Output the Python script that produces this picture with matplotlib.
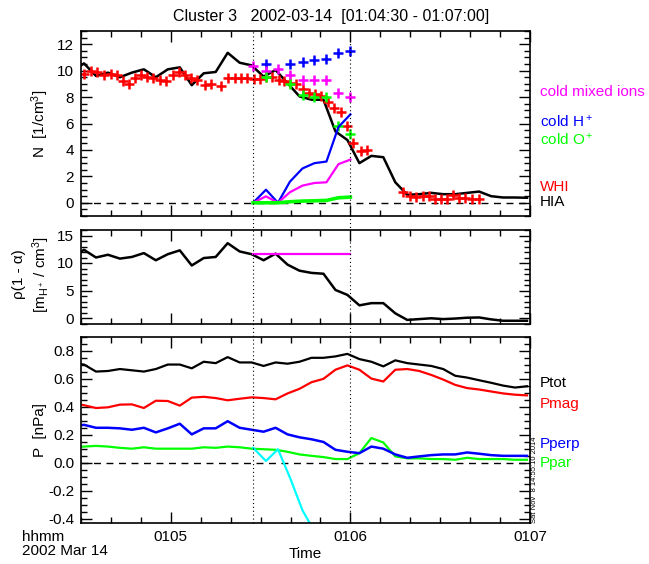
"""
Cluster 3 plasma moments, 2002-03-14 01:04:30 - 01:07:00
Three stacked panels: densities, mass density, pressures.
"""

import matplotlib
matplotlib.use('Agg')
import matplotlib.pyplot as plt
from matplotlib.ticker import MultipleLocator, FixedLocator, NullFormatter
from matplotlib.lines import Line2D
from matplotlib.transforms import blended_transform_factory

plt.rcParams['font.family'] = ['Liberation Sans', 'DejaVu Sans']
plt.rcParams['mathtext.fontset'] = 'custom'
plt.rcParams['mathtext.rm'] = 'Liberation Sans'
plt.rcParams['mathtext.it'] = 'Liberation Sans:italic'

# time axis: seconds after 01:04:30
tick_secs = [30, 90, 150]
tick_labels = ['0105', '0106', '0107']
event_secs = [57.4, 90.0]

# HIA spin-resolution samples (4 s)
t_hia = [-3, 1, 5, 9, 13, 17, 21, 25, 29, 33, 37, 41, 45, 49, 53, 57, 61, 65, 69,
         73, 77, 81, 85, 89, 93, 97, 101, 105, 109, 113, 117, 121, 125, 129, 133,
         137, 141, 145, 149]
n_hia = [9.95, 10.55, 9.6, 9.85, 9.5, 9.85, 10.1, 9.5, 10.1, 10.25, 8.9, 9.8, 9.9,
         11.35, 10.6, 10.4, 9.55, 10.05, 9.05, 8.05, 7.8, 7.8, 5.4, 4.75, 3.0, 3.55,
         3.45, 1.55, 0.6, 0.65, 0.75, 0.65, 0.65, 0.75, 0.85, 0.5, 0.4, 0.4, 0.38]

# WHI density (pluses)
t_whi = [1.0, 3.4, 5.4, 7.7, 9.9, 12.1, 14.1, 16.1, 18.1, 20.1, 22.2, 24.2, 26.4,
         28.4, 30.6, 32.6, 34.6, 36.9, 38.9, 41.3, 43.3, 46.9, 49.1, 51.4, 53.6,
         55.6, 57.8, 59.8, 61.8, 63.8, 66.0, 67.8, 69.8, 71.8, 74.1, 76.1, 78.3,
         80.3, 82.5, 84.5, 86.8, 89.0, 91.0, 93.4, 95.7, 107.5, 109.9, 111.9,
         114.2, 116.2, 118.4, 120.4, 122.4, 124.4, 126.4, 128.4, 130.6, 132.9]
n_whi = [9.76, 10.0, 9.91, 9.66, 9.71, 9.66, 9.21, 8.98, 9.41, 9.66, 9.51, 9.41,
         9.31, 9.21, 9.66, 9.91, 9.66, 9.46, 9.31, 8.91, 9.01, 8.86, 9.46, 9.46,
         9.46, 9.46, 9.37, 9.35, 9.5, 9.5, 9.32, 9.2, 9.1, 9.02, 8.58, 8.28, 8.2,
         8.05, 7.6, 7.2, 6.85, 5.78, 4.55, 3.9, 3.98, 0.85, 0.5, 0.45, 0.5, 0.55,
         0.25, 0.25, 0.3, 0.6, 0.4, 0.35, 0.25, 0.25]

# cold ion interval
t_cold = [57.5, 61.8, 65.8, 69.8, 74.0, 78.0, 82.0, 86.0, 90.0]
n_cold_h = [0.0, 0.99, 0.0, 1.6, 2.6, 3.0, 3.12, 5.73, 6.69]
n_cold_mix = [0.0, 0.49, 0.0, 0.8, 1.3, 1.5, 1.55, 2.92, 3.27]
n_cold_o = [0.0, 0.0, 0.0, 0.08, 0.13, 0.15, 0.18, 0.38, 0.43]

t_plus_h = [61.8, 69.8, 74.0, 78.0, 82.0, 86.0, 90.0]
n_plus_h = [10.47, 10.52, 10.66, 10.78, 10.91, 11.36, 11.46]
t_plus_mix = [57.5, 61.8, 65.8, 69.8, 74.0, 78.0, 82.0, 86.0, 90.0]
n_plus_mix = [10.35, 9.94, 10.15, 9.7, 9.3, 9.27, 9.32, 8.32, 7.99]
t_plus_o = [61.8, 69.8, 74.0, 78.0, 82.0, 86.0, 90.0]
n_plus_o = [9.52, 8.96, 8.16, 7.98, 7.98, 5.79, 5.19]

# mass density
rho = [10.9, 12.4, 11.0, 11.5, 10.8, 11.1, 11.8, 10.5, 11.6, 12.3, 9.55, 10.9,
       11.1, 13.6, 12.1, 11.6, 10.5, 11.7, 9.7, 8.6, 8.2, 8.05, 5.1, 4.2, 2.3,
       2.7, 2.7, 0.85, -0.35, -0.2, -0.05, -0.2, -0.1, 0.05, 0.1, -0.25, -0.5,
       -0.5, -0.5]
t_rho_cold = [57.5, 90.0]
rho_cold = [11.7, 11.7]

# pressures
p_tot = [0.71, 0.70, 0.65, 0.654, 0.668, 0.659, 0.65, 0.668, 0.70, 0.70, 0.673,
         0.72, 0.71, 0.753, 0.715, 0.715, 0.69, 0.715, 0.706, 0.72, 0.748, 0.748,
         0.758, 0.776, 0.739, 0.72, 0.687, 0.73, 0.71, 0.70, 0.69, 0.668, 0.62,
         0.607, 0.588, 0.57, 0.55, 0.536, 0.545]
p_mag = [0.425, 0.41, 0.39, 0.395, 0.414, 0.416, 0.39, 0.442, 0.44, 0.407, 0.464,
         0.47, 0.461, 0.445, 0.456, 0.466, 0.461, 0.452, 0.494, 0.527, 0.574,
         0.598, 0.663, 0.694, 0.663, 0.60, 0.579, 0.663, 0.668, 0.654, 0.626,
         0.593, 0.555, 0.532, 0.522, 0.508, 0.494, 0.485, 0.48]
p_perp = [0.26, 0.27, 0.249, 0.249, 0.245, 0.235, 0.249, 0.216, 0.245, 0.278,
          0.202, 0.245, 0.245, 0.296, 0.249, 0.235, 0.221, 0.249, 0.202, 0.181,
          0.167, 0.148, 0.092, 0.078, 0.068, 0.115, 0.10, 0.059, 0.035, 0.045,
          0.054, 0.059, 0.059, 0.073, 0.064, 0.054, 0.049, 0.049, 0.049]
p_par = [0.11, 0.115, 0.12, 0.115, 0.106, 0.10, 0.11, 0.10, 0.10, 0.10, 0.10,
         0.11, 0.106, 0.115, 0.11, 0.10, 0.096, 0.092, 0.078, 0.059, 0.049, 0.04,
         0.026, 0.026, 0.068, 0.176, 0.144, 0.045, 0.031, 0.031, 0.026, 0.026,
         0.021, 0.035, 0.026, 0.026, 0.026, 0.021, 0.021]
t_cyan = [57.5, 61.8, 65.8, 69.8, 74.0, 78.0]
p_cyan = [0.106, 0.012, 0.096, -0.106, -0.34, -0.49]

BLUE = '#0000ff'
RED = '#ff0000'
GREEN = '#00ff00'
MAGENTA = '#ff00ff'
CYAN = '#00ffff'


def style_axis(ax, ylim, ymaj, ymin, xlabels=False):
    ax.set_xlim(0, 150)
    ax.set_ylim(*ylim)
    ax.xaxis.set_major_locator(FixedLocator(tick_secs))
    ax.xaxis.set_minor_locator(MultipleLocator(10))
    ax.yaxis.set_major_locator(MultipleLocator(ymaj))
    ax.yaxis.set_minor_locator(MultipleLocator(ymin))
    if xlabels:
        ax.set_xticklabels(tick_labels)
    else:
        ax.xaxis.set_major_formatter(NullFormatter())
    ax.tick_params(which='both', direction='in', top=True, right=True,
                   labelsize=11, width=1.0)
    ax.tick_params(which='major', length=8, pad=5)
    ax.tick_params(which='minor', length=4)
    for s in ax.spines.values():
        s.set_linewidth(1.2)


def main():
    fig = plt.figure(figsize=(6.49, 5.64), dpi=100)
    W, H = 649.0, 564.0
    x0, x1 = 81 / W, 530 / W

    def box(top, bottom):
        return [x0, 1 - bottom / H, x1 - x0, (bottom - top) / H]

    ax1 = fig.add_axes(box(31, 216))
    ax2 = fig.add_axes(box(230, 323.5))
    ax3 = fig.add_axes(box(336.5, 523))

    # panel 1: densities
    ax1.axhline(0, color='k', lw=1, linestyle=(0, (5, 4)))
    ax1.plot(t_hia, n_hia, color='k', lw=1.8)
    ax1.plot(t_whi, n_whi, '+', color=RED, ms=7, mew=1.8)
    ax1.plot(t_plus_h, n_plus_h, '+', color=BLUE, ms=7, mew=1.8)
    ax1.plot(t_plus_mix, n_plus_mix, '+', color=MAGENTA, ms=7, mew=1.8)
    ax1.plot(t_plus_o, n_plus_o, '+', color=GREEN, ms=7, mew=1.8)
    ax1.plot(t_cold, n_cold_h, color=BLUE, lw=1.6)
    ax1.plot(t_cold, n_cold_mix, color=MAGENTA, lw=1.6)
    ax1.plot(t_cold, n_cold_o, color=GREEN, lw=2.6)
    style_axis(ax1, (-1, 13), 2, 0.5)

    # panel 2: mass density
    ax2.plot(t_hia, rho, color='k', lw=1.8)
    ax2.plot(t_rho_cold, rho_cold, color=MAGENTA, lw=1.6)
    style_axis(ax2, (-1, 16), 5, 1)

    # panel 3: pressures
    ax3.axhline(0, color='k', lw=1, linestyle=(0, (5, 4)))
    ax3.plot(t_hia, p_tot, color='k', lw=1.6)
    ax3.plot(t_hia, p_mag, color=RED, lw=1.6)
    ax3.plot(t_hia, p_par, color=GREEN, lw=1.6)
    ax3.plot(t_hia, p_perp, color=BLUE, lw=1.8)
    ax3.plot(t_cyan, p_cyan, color=CYAN, lw=1.6)
    style_axis(ax3, (-0.43, 0.9), 0.2, 0.05, xlabels=True)
    ax3.yaxis.set_major_formatter(plt.FuncFormatter(lambda v, p: f'{v:.1f}'))

    # event markers spanning all panels
    trans = blended_transform_factory(ax1.transData, fig.transFigure)
    for ts in event_secs:
        fig.add_artist(Line2D([ts, ts], [1 - 523 / H, 1 - 31 / H], transform=trans,
                              color='k', lw=0.8, linestyle=(0, (1, 2.5))))

    # labels
    fig.text(331 / W, 1 - 17 / H, 'Cluster 3   2002-03-14  [01:04:30 - 01:07:00]',
             ha='center', va='center', fontsize=11.5)
    fig.text(40 / W, 1 - 124 / H, 'N  [1/cm$^3$]', rotation=90,
             ha='center', va='center', fontsize=11)
    fig.text(19 / W, 1 - 274 / H, '\u03c1(1 - \u03b1)', rotation=90,
             ha='center', va='center', fontsize=11)
    fig.text(41 / W, 1 - 274 / H, '[m$_{\\mathrm{H^+}}$ / cm$^3$]', rotation=90,
             ha='center', va='center', fontsize=11)
    fig.text(40 / W, 1 - 430 / H, 'P  [nPa]', rotation=90,
             ha='center', va='center', fontsize=11)

    right = [('cold mixed ions', MAGENTA, 92), ('cold H$^+$', BLUE, 122),
             ('cold O$^+$', GREEN, 140), ('WHI', RED, 187), ('HIA', 'k', 202),
             ('Ptot', 'k', 383), ('Pmag', RED, 404), ('Pperp', BLUE, 444),
             ('Ppar', GREEN, 463)]
    for txt, col, yp in right:
        fig.text(540 / W, 1 - yp / H, txt, color=col, ha='left', va='center',
                 fontsize=11)

    fig.text(22 / W, 1 - 537 / H, 'hhmm', ha='left', va='center', fontsize=11)
    fig.text(22 / W, 1 - 551 / H, '2002 Mar 14', ha='left', va='center', fontsize=11)
    fig.text(305.5 / W, 1 - 554 / H, 'Time', ha='center', va='center', fontsize=11)
    fig.text(535 / W, 1 - 523 / H, 'Sat Nov  8 14:55:10 2014', rotation=90,
             ha='center', va='bottom', fontsize=5.5)

    fig.savefig('out.png', dpi=100)
    plt.close(fig)


if __name__ == "__main__":
    main()
